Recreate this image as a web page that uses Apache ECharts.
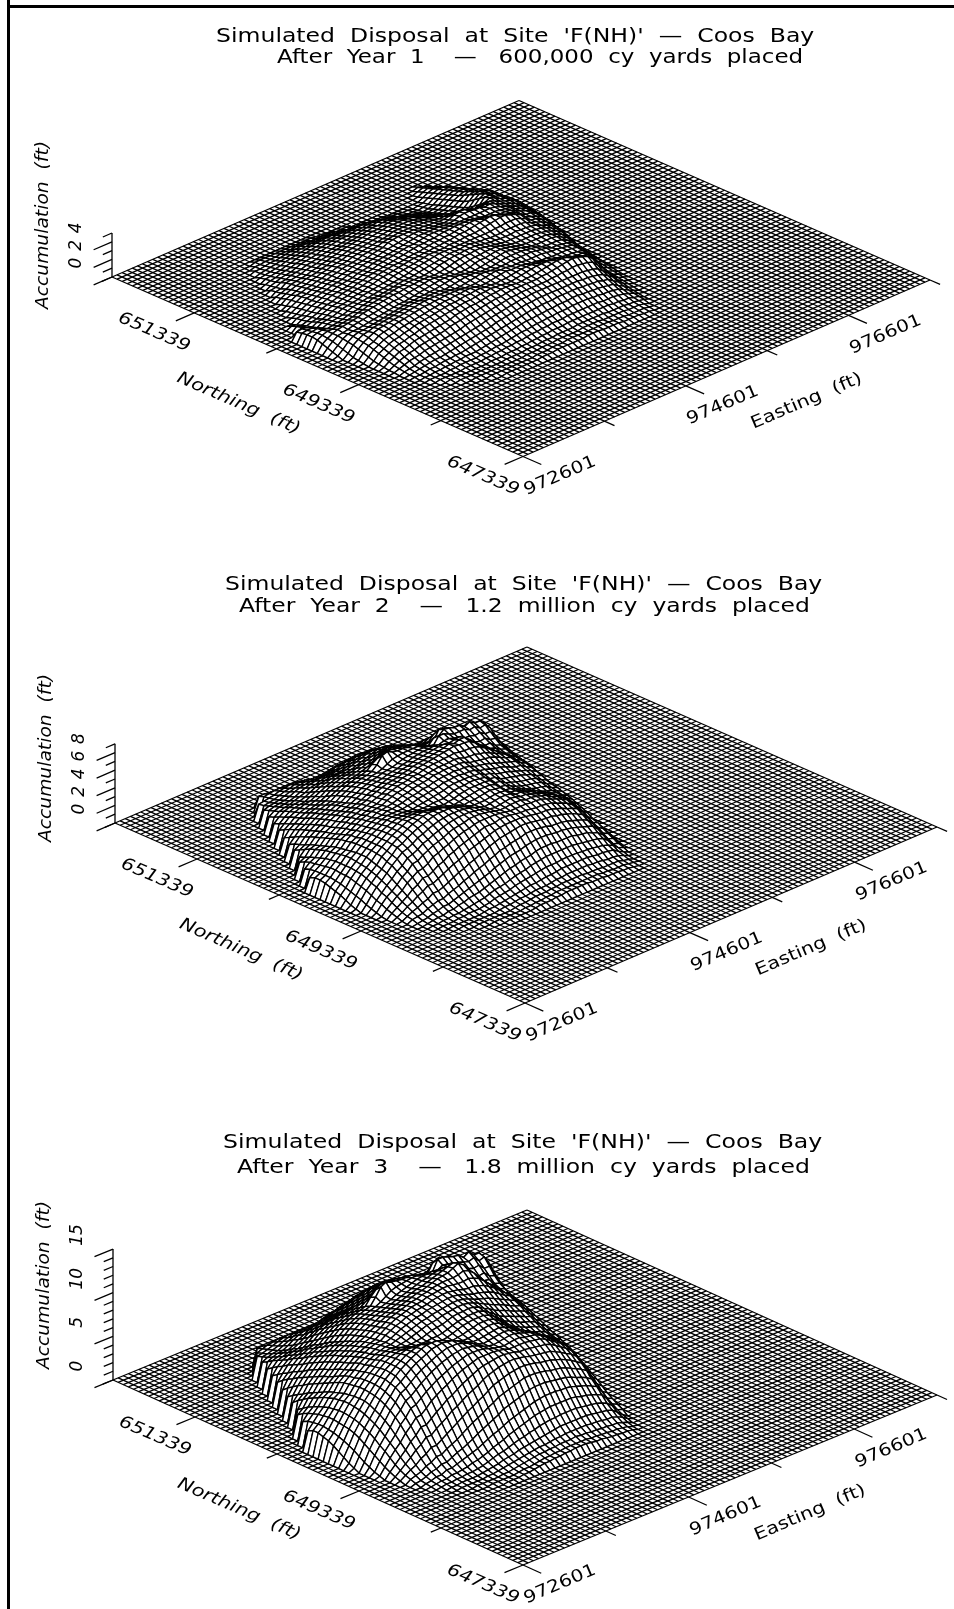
<!DOCTYPE html>
<html><head><meta charset="utf-8"><style>html,body{margin:0;padding:0;background:#fff}#c{width:954px;height:1609px}</style>
<script src="https://cdn.jsdelivr.net/npm/echarts@6/dist/echarts.min.js"></script></head><body><div id="c"></div>
<script>
const eastTicks=[972601,973601,974601,975601,976601,977601];
const northTicks=[647339,648339,649339,650339,651339,652339];
const labeledEast=[972601,974601,976601];
const labeledNorth=[647339,649339,651339];
const meshCells=80;
// accumulation: tenths of a foot; each row is one easting line: [first northing node, heights...]
const firstEastingNode=4;
const year1Rows=[
[40,2,4,6,8,10,11,11,10,9],
[36,1,2,3,5,7,9,11,12,13,13,12,11,10],
[31,1,1,2,3,4,6,8,10,12,13,14,15,15,15,14,13,11,9,7,5,3],
[28,1,1,2,3,4,6,8,10,12,14,15,16,17,17,16,17,15,13,11,9,7,6,4,2],
[26,1,1,1,2,3,5,7,9,11,13,15,16,18,19,19,18,17,18,16,14,13,12,10,8,6,5,4,2],
[25,1,1,1,2,3,4,7,9,12,14,16,18,20,21,20,19,18,19,19,17,15,14,13,11,9,8,7,5,4,3,2],
[24,1,1,1,2,3,4,6,8,11,13,16,18,20,22,23,22,20,19,20,20,18,16,15,14,13,12,10,9,8,7,6,5,3,2],
[23,1,1,1,1,2,3,5,7,9,12,15,17,19,21,23,24,23,21,20,21,21,19,18,16,16,15,14,13,12,11,10,9,8,7,6,4,3],
[23,1,1,1,2,3,4,6,8,11,14,17,19,21,23,25,25,24,22,21,22,23,21,19,18,18,17,16,15,14,13,12,12,11,10,8,7,5,4,3],
[22,1,1,1,1,2,3,5,6,9,12,15,18,20,22,24,26,26,25,23,22,23,24,22,20,20,19,18,17,16,16,15,14,13,12,11,10,9,7,5,4,3,2],
[22,1,1,1,2,3,4,5,7,10,13,16,19,22,24,25,27,27,26,24,23,24,25,24,22,21,20,19,19,18,18,17,16,15,14,13,12,11,10,9,7,5,4,3,2],
[21,1,1,1,1,2,3,4,6,8,11,14,17,20,23,25,26,28,28,27,25,24,25,26,25,23,22,21,21,20,20,19,18,17,16,15,14,13,12,11,10,8,7,5,4,3,2,2],
[21,1,1,1,1,2,3,5,6,9,12,15,18,21,24,26,27,29,29,28,26,25,26,27,26,25,23,23,22,22,21,20,20,19,18,17,16,15,14,12,11,10,8,7,5,4,3,2,2],
[20,1,1,1,1,1,2,3,5,7,10,13,16,19,22,25,27,28,30,30,29,27,26,27,28,27,25,24,24,23,23,22,21,21,20,19,18,17,16,15,13,12,11,9,8,6,5,4,3,2,2],
[20,1,1,1,1,2,3,4,5,8,11,14,17,21,23,26,28,29,31,31,30,28,26,27,29,28,26,25,25,25,24,24,23,22,21,20,20,19,18,16,15,14,12,11,9,8,6,5,4,3,2],
[20,1,1,1,1,2,3,4,6,9,12,15,18,22,24,27,29,30,31,32,30,28,27,28,29,29,27,26,26,26,26,25,24,23,23,22,21,20,19,18,16,15,14,13,11,9,8,6,4,3,2],
[20,1,1,1,2,2,4,5,7,10,13,16,20,23,26,28,30,31,32,32,30,29,28,29,30,30,28,27,27,28,27,27,26,25,24,23,23,22,21,19,18,16,15,14,12,11,9,7,5,3,2],
[20,1,1,1,2,3,4,6,8,11,14,17,21,24,27,29,31,32,32,32,31,29,29,30,31,30,29,28,28,29,29,28,27,26,25,25,24,23,22,21,19,18,16,15,14,12,10,8,6,4,2],
[20,1,1,1,2,3,5,6,9,12,15,18,22,25,28,30,31,32,33,32,31,30,30,31,31,31,30,29,30,30,30,29,28,27,27,26,25,24,23,22,21,19,18,16,15,13,11,9,7,4,2],
[20,1,1,2,2,3,5,7,10,13,16,20,23,26,29,31,32,33,33,32,31,30,31,32,32,31,30,30,31,31,31,30,30,29,28,27,26,26,25,23,22,21,19,18,16,14,12,10,7,4,2],
[20,2,2,2,3,4,6,8,11,14,18,21,24,27,29,31,33,33,33,32,30,31,32,33,32,31,31,31,32,32,32,31,31,30,29,28,28,27,26,25,24,22,20,19,17,15,13,10,8,5,2],
[20,2,2,2,3,4,6,9,12,15,19,22,25,28,30,32,33,34,33,31,31,32,33,33,32,31,32,33,33,33,32,32,32,31,30,30,29,28,27,26,25,23,21,20,18,16,14,11,8,5,2],
[20,2,2,3,3,5,7,10,13,16,20,23,26,29,31,33,34,34,32,31,32,33,33,32,31,32,33,34,34,34,33,33,33,32,32,31,30,29,28,27,26,24,22,21,19,17,14,11,8,5,2],
[20,3,3,3,4,5,8,10,14,17,21,24,27,30,32,33,34,33,32,32,33,34,33,32,32,33,34,35,35,35,34,34,34,33,33,32,31,30,29,28,27,25,23,22,20,17,15,11,8,4,2],
[20,3,3,3,4,6,8,11,15,18,22,25,28,30,32,34,33,32,32,33,34,34,32,32,33,35,35,36,36,35,35,35,35,34,34,35,33,31,30,29,28,26,24,22,20,18,15,11,7,4,2],
[20,3,3,4,4,6,9,12,15,19,23,26,29,31,33,33,33,32,33,34,34,33,32,33,34,36,36,37,37,36,35,36,36,35,35,36,34,32,31,30,29,27,25,23,21,18,15,11,7,4,1],
[20,3,4,4,5,7,9,12,16,20,24,27,29,32,33,33,32,33,34,35,34,32,32,34,36,37,37,38,37,36,36,37,36,36,36,37,35,33,32,31,30,28,26,24,21,18,15,10,6,3,1],
[20,3,4,4,5,7,10,13,16,20,24,27,30,32,33,32,33,34,35,35,33,32,33,35,37,38,38,38,37,37,37,37,37,37,37,37,36,35,33,32,30,29,27,24,22,18,14,9,5,3],
[20,3,4,4,5,7,10,13,17,21,25,28,30,32,32,32,33,35,36,34,33,33,35,36,38,38,38,38,37,37,38,38,38,38,38,37,36,35,34,33,31,29,27,25,22,18,14,8,5,2],
[20,4,4,4,5,8,10,14,17,21,25,28,30,32,32,33,34,36,35,34,33,34,36,37,38,39,38,38,38,38,38,38,39,38,38,37,36,35,34,33,32,30,28,25,22,18,13,8,4,2],
[20,4,4,5,6,8,11,14,18,21,25,28,30,32,33,34,35,35,35,34,34,35,36,37,39,39,39,38,38,38,39,39,39,38,37,36,36,35,34,33,32,30,28,25,21,17,12,7,4,2],
[20,4,4,5,6,8,11,14,18,22,25,28,30,32,33,35,36,35,34,34,35,36,37,38,39,39,39,38,38,39,39,40,39,38,37,36,35,35,34,33,31,29,27,24,20,16,11,6,3],
[20,3,4,5,6,8,11,15,18,22,25,28,30,33,34,36,36,35,34,35,36,37,38,38,38,38,38,38,39,40,40,40,39,38,36,35,35,34,33,32,30,28,25,22,18,14,10,5,2],
[20,3,4,5,6,8,11,15,19,22,25,28,31,33,35,37,36,34,34,35,36,38,38,38,37,37,37,38,39,40,41,41,39,37,36,35,34,33,32,31,29,26,23,20,17,13,9,5,2],
[20,3,4,4,6,8,11,15,19,22,25,28,31,34,36,37,35,33,33,35,36,37,37,37,36,36,37,38,39,41,42,41,39,37,35,34,33,32,31,29,27,24,21,18,15,11,7,4,1],
[20,3,3,4,6,8,11,15,18,22,25,28,32,35,37,37,34,32,33,35,36,36,36,35,35,36,36,38,40,42,43,41,39,38,36,34,32,31,29,27,24,21,18,15,12,9,6,3,1],
[20,2,3,4,5,8,11,14,18,21,25,28,32,36,38,36,33,31,33,35,35,35,34,34,34,35,36,38,41,43,43,41,39,40,39,35,32,30,27,25,22,18,15,12,10,7,5,3,1],
[20,2,3,4,5,8,10,14,17,21,24,28,33,37,38,35,32,31,33,34,34,33,33,33,34,35,36,39,42,44,42,40,39,41,40,36,32,29,26,23,20,16,13,10,8,6,4,2],
[20,2,2,4,5,7,10,13,17,20,24,28,33,38,37,33,31,30,32,33,33,32,32,33,34,35,37,39,43,45,41,39,39,41,40,36,31,27,24,21,18,14,11,9,7,5,3,2],
[20,2,2,3,5,7,10,13,16,20,23,27,32,37,35,31,30,30,31,32,31,31,32,33,34,36,37,40,44,44,40,38,39,40,38,34,29,25,22,18,15,12,10,8,6,4,2,1],
[20,1,2,3,4,6,9,12,15,18,22,26,31,35,33,30,29,30,31,30,30,31,32,33,34,35,37,40,44,42,39,38,39,40,36,32,27,23,19,16,13,11,9,7,5,3,2,1],
[20,1,2,3,4,6,8,11,14,17,20,24,29,33,31,29,29,30,30,30,30,31,32,33,34,35,37,40,42,40,38,38,39,38,34,29,24,20,17,14,12,10,8,6,4,2,1],
[21,1,2,3,4,6,8,10,13,16,19,23,28,30,29,28,29,29,29,30,31,32,32,33,34,36,38,40,39,38,37,38,39,36,31,26,22,18,15,13,11,9,7,5,3,2,1],
[23,2,3,4,5,7,9,12,14,17,21,25,27,27,28,28,28,29,30,30,31,32,33,33,35,37,37,37,36,36,37,37,33,28,24,20,17,15,13,11,9,7,5,3,2],
[25,1,2,3,5,6,8,10,12,15,18,22,24,25,26,26,27,28,29,30,30,31,31,32,33,34,35,34,34,35,36,34,30,26,22,19,17,15,13,11,9,7,5,3,1],
[27,1,2,3,4,5,6,8,10,12,15,18,21,23,24,25,26,27,28,29,30,30,30,31,31,32,32,32,33,34,33,30,27,24,21,18,16,14,12,10,8,6,4,2],
[29,1,2,3,4,5,6,7,9,11,13,16,19,21,23,24,25,26,27,28,29,29,29,29,30,30,30,30,31,30,28,25,23,20,18,16,14,12,10,8,6,4,2],
[32,1,2,3,4,5,6,7,9,11,14,17,19,21,22,24,25,26,26,27,27,27,28,28,28,28,29,27,25,22,20,18,16,14,12,10,7,5,3],
[37,1,2,3,4,6,8,11,14,16,18,20,21,22,23,24,24,25,25,25,25,25,24,22,20,18,16,14,12,10,8,5,3],
[42,1,3,5,8,11,13,15,17,18,19,20,21,21,21,20,19,17,15,14,12,10,8,6,4,2],
[46,2,4,7,9,11,13,14,15,15,15,14,13,11,9,7,5,3],
[49,1,3,5,7,9,10,11,11,10,8,5,3,1]];
const year2Rows=[
[37,2,4,7,10,12,14,16,17,17,15],
[33,1,3,5,7,10,12,14,16,18,19,20,20,20,20,19,17],
[30,1,3,5,7,10,12,15,18,20,22,24,25,25,26,26,25,24,23,22,20,17],
[28,1,3,4,6,9,12,16,18,22,24,27,29,30,31,31,31,31,30,29,27,25,23,20,18],
[26,1,1,2,4,7,10,13,17,20,24,27,30,32,34,35,36,37,37,36,35,34,33,31,29,27,24,21,18],
[25,1,1,2,3,5,9,13,17,21,25,29,33,35,37,39,41,41,41,40,39,38,37,35,33,31,29,27,24,22,20,17],
[24,1,1,2,3,5,8,12,17,22,27,31,35,39,41,44,45,46,46,46,46,45,44,43,41,39,37,35,33,31,28,26,23,20,17],
[23,1,1,1,2,3,6,10,14,20,25,31,35,39,44,46,48,50,50,50,50,50,48,48,46,44,42,40,39,37,35,33,31,29,26,24,21,18],
[23,1,1,2,3,5,8,12,18,24,30,35,41,45,49,52,53,54,54,54,54,53,52,51,49,48,46,44,42,41,39,37,35,32,30,28,25,23,20,18],
[22,1,1,1,2,3,5,8,12,18,24,30,36,42,47,51,54,57,58,58,58,57,56,55,54,53,51,50,48,46,45,43,41,39,37,34,32,30,28,25,23,20,18],
[22,1,1,1,3,4,7,10,15,20,27,33,39,46,50,54,58,60,61,61,61,60,59,58,57,56,54,53,51,50,48,46,44,42,40,38,35,33,31,29,27,24,22,20,18],
[21,1,1,1,1,3,5,8,12,17,23,30,37,44,49,54,58,61,63,64,64,63,63,61,60,58,58,56,55,54,52,50,48,46,44,42,40,37,35,33,31,29,26,24,22,20,18,17],
[21,1,1,1,2,3,6,10,14,19,26,33,39,46,52,56,60,64,66,67,66,65,64,63,61,61,60,58,57,56,54,52,51,49,47,44,42,39,37,35,32,30,27,25,23,21,19,18],
[20,1,1,1,1,3,4,7,11,16,22,29,36,43,49,54,59,63,66,68,68,67,65,64,63,63,62,61,60,59,58,56,54,52,50,48,46,44,41,39,36,33,31,29,26,24,22,20,19,18,16],
[20,1,1,1,2,3,5,8,12,18,24,31,38,45,51,56,61,65,68,70,69,67,65,64,63,63,63,62,61,61,60,58,57,56,54,52,50,47,44,41,39,36,33,31,28,26,24,22,20,19,16],
[20,1,1,1,3,4,7,10,14,20,27,34,41,48,54,59,63,67,70,71,70,67,65,63,63,64,64,65,64,63,63,61,60,58,57,55,53,50,48,45,42,39,36,33,31,29,26,24,22,20,15],
[20,1,1,2,3,5,8,12,16,22,29,36,44,50,56,61,65,68,71,71,69,66,64,63,64,65,66,67,67,65,65,63,63,61,60,58,56,53,50,48,45,42,39,36,33,31,28,25,23,20,14],
[20,1,2,3,4,6,9,13,18,24,31,39,46,52,58,62,66,69,71,71,68,65,64,64,65,67,68,69,69,68,67,65,65,63,62,60,58,55,52,50,47,44,41,37,35,32,29,27,24,20,12],
[20,2,2,3,5,7,10,14,20,27,34,41,48,54,59,63,67,69,71,70,67,65,64,65,67,68,69,70,71,70,69,67,66,65,63,62,60,57,54,52,49,46,42,39,36,33,30,27,24,19,11],
[20,3,3,4,5,8,12,16,22,29,36,44,50,56,61,65,67,69,70,68,65,64,65,66,68,69,71,72,72,71,70,69,67,66,65,63,61,58,56,53,50,47,44,40,37,33,30,27,23,18,10],
[20,3,3,5,6,9,13,18,24,31,39,46,52,58,62,65,67,68,68,66,64,63,65,67,69,71,72,73,73,73,71,70,69,68,66,65,63,60,57,54,51,48,44,41,37,33,30,25,20,14,7],
[20,3,4,5,7,10,14,19,25,33,40,48,54,58,62,65,66,67,66,65,63,64,65,68,70,71,73,74,75,74,73,71,70,69,68,70,68,62,59,56,52,49,45,42,38,34,30,25,20,13,6],
[20,4,4,5,7,10,15,20,27,34,42,49,55,58,62,64,65,65,64,63,64,65,67,69,71,73,74,75,75,75,74,73,71,70,71,78,72,65,61,58,54,51,47,43,39,35,31,24,18,12,5],
[20,4,5,6,7,11,16,22,28,35,43,50,56,60,62,63,63,63,63,64,65,67,69,71,73,74,76,76,77,77,76,74,73,72,74,80,75,68,63,60,56,53,49,45,41,37,32,24,17,10,4],
[20,5,5,6,8,12,17,23,29,37,44,51,56,60,61,61,61,61,63,64,66,68,70,72,73,75,76,77,78,78,77,76,74,74,75,77,76,71,66,62,58,55,51,47,43,38,33,25,16,9],
[20,5,5,7,9,12,18,24,31,38,46,52,56,59,60,60,60,62,63,65,67,69,70,72,74,75,77,78,79,79,78,77,76,75,76,76,75,72,68,64,60,57,53,49,44,39,33,24,15,8],
[20,5,5,7,9,13,18,25,32,39,46,52,56,58,59,60,61,63,64,66,68,69,71,72,74,76,77,78,79,80,79,78,77,76,76,76,74,72,69,65,62,58,54,50,46,40,32,23,14,6],
[20,5,5,7,10,14,18,25,32,39,46,51,55,57,59,61,62,64,65,67,68,69,71,72,73,75,77,78,80,81,80,79,78,77,76,75,73,71,68,65,62,58,54,50,45,39,31,22,12,5],
[20,5,5,7,10,14,19,25,32,39,45,50,54,57,59,61,63,64,65,66,68,69,70,71,73,75,77,79,80,82,81,80,78,77,76,75,72,70,67,65,61,57,53,49,44,37,29,19,10,4],
[20,4,5,7,10,14,19,25,31,38,44,49,53,56,59,61,62,63,64,65,66,68,69,71,72,74,76,78,81,83,82,81,79,76,74,72,70,67,64,60,57,54,49,45,39,32,25,16,8,3],
[20,4,5,6,10,14,19,25,31,37,42,48,52,55,58,59,60,60,60,60,61,63,65,67,69,71,73,76,80,84,84,81,78,75,72,70,67,65,62,58,53,48,43,36,30,24,16,8,3],
[20,4,5,6,10,14,19,25,31,37,42,48,52,55,58,59,60,60,59,59,60,62,64,66,68,70,72,75,79,83,82,80,80,83,78,70,66,62,57,52,47,41,34,28,21,15,10,5],
[20,3,4,6,9,14,18,24,31,36,41,46,51,54,57,58,58,58,57,56,57,58,60,63,66,69,71,75,79,83,84,81,80,83,78,70,66,62,57,52,47,41,34,28,21,15,10,5],
[20,3,4,5,9,13,18,23,29,35,40,45,49,53,55,56,56,56,54,54,54,56,58,61,64,67,70,73,78,82,84,82,78,80,83,80,72,65,60,54,49,43,37,30,24,18,12,7,3],
[20,3,3,5,8,12,17,22,28,33,38,43,47,50,52,54,54,52,52,51,52,54,57,60,63,65,69,72,76,78,79,76,75,78,82,79,71,63,56,50,44,38,32,26,20,14,10,5,2],
[20,2,3,5,7,12,16,21,27,31,36,41,44,48,50,50,50,50,49,49,50,52,55,58,61,63,67,69,72,73,73,72,73,78,80,76,68,60,52,45,39,33,27,20,15,10,6,3],
[20,2,3,5,7,11,15,20,24,29,34,38,42,45,47,48,48,47,46,47,49,51,54,56,58,61,64,66,68,68,68,69,73,78,80,74,65,56,46,39,33,26,20,14,10,5,2],
[20,1,2,3,6,10,13,18,22,27,31,35,39,41,44,44,44,44,44,46,48,50,52,54,56,59,61,63,64,64,65,67,71,75,76,70,60,49,41,33,26,19,14,9,5,2],
[21,1,2,4,6,10,13,17,21,25,29,33,36,38,40,41,42,42,44,46,48,50,52,55,57,59,60,60,62,65,68,72,76,79,72,61,50,40,32,24,17,12,7,3],
[23,1,3,5,7,10,14,18,21,25,29,31,34,36,37,39,40,42,44,46,49,51,53,54,56,56,58,60,64,68,72,75,71,61,50,39,30,22,15,10,5,2],
[25,3,5,8,11,14,18,20,24,27,29,32,34,36,38,39,41,44,46,48,50,51,52,54,56,58,63,68,73,75,68,58,48,37,27,19,12,7,3],
[27,2,4,7,9,12,14,17,20,22,25,27,30,32,34,36,38,40,42,44,46,48,50,52,56,61,67,69,65,56,45,34,24,16,10,5,2],
[30,2,3,5,7,10,12,14,16,19,22,24,27,29,31,33,35,37,39,41,43,46,49,53,57,61,60,52,41,31,21,14,7,3],
[33,2,3,5,7,10,12,15,18,20,23,26,29,31,33,35,37,38,40,43,46,49,52,48,39,30,20,13,7,3],
[37,2,4,6,9,12,14,18,20,23,26,29,31,32,34,36,39,41,38,30,21,13,7,3],
[41,2,5,7,10,14,17,20,22,24,26,28,30,31,29,22,14,7,3],
[45,3,5,9,12,14,17,19,20,22,23,22,17,11,5,2],
[49,3,6,9,12,14,15,15,12,7,3],
[53,2,5,7,7,5,3]];
const year3Rows=[
[37,3,6,10,14,18,21,23,25,25,22],
[33,2,4,7,10,14,18,21,24,26,28,29,30,30,29,28,25],
[30,2,4,7,10,14,18,22,26,30,33,35,36,37,38,38,37,36,34,32,29,25],
[28,2,4,6,9,13,18,23,27,32,36,39,42,44,45,46,46,45,44,42,40,37,34,30,26],
[26,1,2,3,6,10,14,19,25,30,35,40,44,47,50,52,53,54,54,53,52,50,48,45,42,39,35,31,26],
[25,1,2,3,5,8,13,19,25,31,37,43,48,52,55,58,60,60,60,59,58,56,54,52,49,46,43,40,36,33,29,25],
[24,1,2,3,5,8,12,18,25,32,39,46,52,57,61,64,66,67,68,68,67,66,65,63,60,57,54,51,48,45,41,38,34,30,25],
[23,1,1,2,3,5,9,14,21,29,37,45,52,58,64,68,71,73,74,74,74,73,71,70,68,65,62,59,57,54,51,48,45,42,38,35,31,26],
[23,1,2,3,5,8,12,18,26,35,44,52,60,66,72,76,78,80,80,80,79,78,76,75,72,70,68,65,62,60,57,54,51,47,44,41,37,34,30,26],
[22,1,1,2,3,5,8,12,18,26,35,44,53,62,69,75,80,84,85,86,85,84,83,81,80,78,75,73,71,68,66,63,60,57,54,50,47,44,41,37,34,30,26],
[22,1,1,2,4,6,10,15,22,30,40,49,58,67,74,80,85,89,90,90,90,89,87,85,84,82,80,78,75,73,71,68,65,62,59,56,52,49,46,42,39,36,33,29,26],
[21,1,1,1,2,4,7,12,18,25,34,44,54,64,72,79,85,90,93,94,94,93,92,90,88,86,85,83,81,79,76,74,71,68,65,62,59,55,52,48,45,42,38,35,32,29,27,25],
[21,1,1,2,3,5,9,14,20,28,38,48,58,68,76,83,89,94,97,98,97,95,94,92,90,89,88,86,84,82,80,77,75,72,69,65,62,58,55,51,47,44,40,37,34,31,28,26,24],
[20,1,1,1,2,4,6,10,16,23,32,42,53,63,72,80,87,92,97,100,100,99,96,94,93,92,91,90,88,87,85,82,80,77,74,71,68,64,60,57,53,49,45,42,38,35,32,30,28,26,24],
[20,1,1,2,3,5,8,12,18,26,36,46,56,66,75,83,90,95,100,103,102,99,96,94,92,92,92,91,90,89,88,86,84,82,79,76,73,69,65,61,57,53,49,45,41,38,35,32,30,28,24],
[20,1,1,2,4,6,10,14,21,30,40,50,60,70,79,86,93,98,103,105,103,99,95,93,93,94,94,95,94,93,92,90,88,86,84,81,78,74,70,66,62,58,53,49,45,42,38,35,32,29,22],
[20,2,2,3,5,8,12,17,24,33,43,53,64,74,82,89,95,100,104,105,102,97,94,93,94,96,97,98,98,96,95,93,92,90,88,85,82,78,74,70,66,62,57,53,48,45,41,37,34,30,20],
[20,2,3,4,6,9,13,19,27,36,46,57,67,77,85,91,97,102,105,105,100,96,94,94,96,98,100,101,101,100,98,96,95,93,91,88,85,81,77,73,69,65,60,55,51,47,43,39,35,30,18],
[20,3,3,5,7,10,15,21,29,39,50,60,70,80,87,93,98,102,104,103,98,95,94,95,98,100,102,103,104,103,101,99,97,95,93,91,88,84,80,76,72,67,62,58,53,48,44,40,35,28,16],
[20,4,4,6,8,12,17,24,32,42,53,64,74,83,89,95,99,102,103,100,96,94,95,97,100,102,104,106,106,105,103,101,99,97,95,93,90,86,82,78,74,69,64,59,54,49,44,40,34,26,14],
[20,5,5,7,9,13,19,26,35,46,57,68,77,85,91,95,98,100,100,97,94,93,95,99,102,104,106,107,108,107,105,103,101,99,97,95,92,88,84,80,75,70,65,60,55,50,44,40,30,20,10],
[20,5,6,8,10,14,20,28,37,48,59,70,79,86,91,95,97,98,97,95,93,94,96,100,103,105,107,109,110,109,107,105,103,101,100,103,100,92,87,82,77,72,67,62,57,52,46,40,30,18,8],
[20,6,6,8,11,15,22,30,39,50,61,72,81,87,91,94,95,95,94,93,94,96,98,101,104,107,109,110,111,111,109,107,105,103,104,112,106,96,90,85,80,75,70,65,60,54,48,40,30,18,8],
[20,6,7,9,11,16,23,32,41,52,63,74,82,88,91,92,92,92,92,93,95,98,100,103,106,108,110,111,112,112,111,109,107,106,108,115,110,100,93,88,83,78,73,68,62,56,50,40,28,16,6],
[20,7,7,9,12,17,25,34,43,54,65,75,83,88,90,90,90,90,92,94,97,100,102,105,107,109,111,113,114,114,113,111,109,108,110,113,112,105,97,91,86,81,76,70,64,58,50,40,26,14],
[20,7,8,10,13,18,26,35,45,56,67,76,83,87,89,89,89,91,93,96,98,101,103,106,108,110,112,114,115,115,114,113,111,110,111,112,110,106,100,94,89,84,78,72,66,59,50,38,24,12],
[20,8,8,10,13,19,27,36,46,57,67,76,82,86,87,88,90,92,94,97,100,102,104,106,109,111,113,115,116,117,116,114,113,112,112,111,109,105,101,96,91,86,80,74,68,60,50,36,22,10],
[20,8,8,10,14,20,27,37,47,57,67,75,81,84,87,89,91,93,95,98,100,102,104,107,109,111,113,115,117,118,118,116,115,114,113,111,108,104,100,96,92,87,81,75,68,60,48,34,20,8],
[20,8,8,11,14,20,28,37,47,57,66,74,79,84,87,90,92,94,96,98,100,102,104,106,108,110,112,114,117,119,120,118,116,115,113,111,107,103,99,95,91,86,80,74,66,58,46,32,18,7],
[20,7,8,10,14,20,28,37,47,56,65,72,78,83,87,90,92,93,94,96,98,100,102,104,106,108,110,113,116,119,121,120,118,115,112,109,105,101,97,93,89,84,78,71,63,54,42,28,15,6],
[20,6,7,10,14,20,28,37,46,55,63,71,77,82,86,88,90,91,91,92,94,96,98,100,103,105,108,111,115,119,122,122,119,116,111,107,103,99,95,91,86,80,74,66,57,47,36,24,12,4],
[20,6,7,9,14,20,28,37,46,54,62,70,76,81,85,87,88,88,87,87,89,91,94,97,100,103,106,110,115,120,125,124,120,115,110,105,100,96,92,87,81,75,67,58,49,39,28,18,9,3],
[20,5,6,9,13,20,27,36,45,53,61,68,75,80,84,86,86,85,84,83,84,86,89,93,97,101,105,110,116,122,128,126,119,118,122,115,103,97,91,84,77,69,60,50,41,31,22,14,7,3],
[20,4,6,8,13,19,26,34,43,51,59,66,72,78,81,83,83,82,80,79,80,83,86,90,94,99,103,108,114,120,124,121,115,117,122,118,106,96,88,80,72,63,54,44,35,26,18,11,5],
[20,4,5,8,12,18,25,33,41,48,56,63,69,74,77,79,79,77,76,75,77,80,84,88,92,96,101,106,111,115,116,112,110,115,120,116,105,93,83,74,65,56,47,38,29,21,14,8,3],
[20,3,5,7,11,17,24,31,39,46,53,60,65,70,73,74,74,73,72,72,74,77,81,85,89,93,98,102,106,108,108,106,108,114,118,112,100,88,76,66,57,48,39,30,22,15,9,4],
[20,3,4,7,11,16,22,29,36,43,50,56,62,66,69,70,70,69,68,69,72,75,79,82,86,90,94,98,100,101,100,102,107,112,117,108,95,80,69,58,48,38,29,21,14,8,3],
[20,2,3,5,9,14,19,26,33,39,46,52,57,61,64,65,65,65,65,67,70,73,76,80,83,87,90,93,95,95,96,99,105,110,112,102,88,72,60,48,38,28,20,13,7,3],
[21,1,3,6,9,14,19,25,31,37,43,48,53,56,59,60,61,62,64,67,70,74,77,81,84,87,88,89,91,95,100,106,112,116,106,90,74,59,46,35,25,17,10,5],
[23,2,4,7,11,15,20,26,31,37,42,46,50,53,55,57,59,62,65,68,72,75,78,80,82,83,85,88,94,100,106,110,104,90,73,58,44,32,22,14,8,3],
[25,5,8,12,16,21,26,30,35,39,43,47,50,53,56,58,61,64,67,70,73,75,77,79,82,86,92,100,108,110,100,86,70,54,40,28,18,11,5],
[27,3,6,10,13,17,21,25,29,33,37,40,44,47,50,53,56,59,62,65,67,70,73,77,83,90,98,102,96,82,66,50,36,24,14,7,3],
[30,3,5,8,11,14,17,21,24,28,32,36,39,43,46,49,52,55,58,60,63,67,72,78,84,90,88,76,60,45,31,20,11,5],
[33,3,5,8,11,14,18,22,26,30,34,38,42,45,48,51,54,56,59,63,67,72,76,70,58,44,30,19,10,4],
[37,3,6,9,13,17,21,26,30,34,38,42,45,47,50,53,57,60,56,44,31,19,10,4],
[41,3,7,11,15,20,25,29,33,36,38,41,44,46,42,32,21,11,5],
[45,4,8,13,17,21,25,28,30,32,34,32,25,16,8,3],
[49,4,9,13,17,20,22,22,18,11,5],
[53,3,7,10,11,8,4]];
const titleLine1="Simulated  Disposal  at  Site  'F(NH)'  —  Coos  Bay";
const panels=[
 {near:[523,456.5],east:[407,-176.5],north:[-411,-179.5],ftPx:8.8,zMax:5,zMajor:2,labelDrop:-52,titles:[[titleLine1,216,37,1.178],["After  Year  1    —   600,000  cy  yards  placed",277,58,1.148]],rows:year1Rows},
 {near:[525,1003],east:[412,-176],north:[-410,-180],ftPx:8.8,zMax:9,zMajor:2,labelDrop:-65,titles:[[titleLine1,225,585,1.176],["After  Year  2    —   1.2  million  cy  yards  placed",239,607,1.173]],rows:year2Rows},
 {near:[523,1565],east:[414,-170],north:[-410,-185],ftPx:8.73,zMax:15,zMajor:5,labelDrop:-95,titles:[[titleLine1,223,1143,1.18],["After  Year  3    —   1.8  million  cy  yards  placed",237,1168,1.177]],rows:year3Rows}
];
const FONT='"DejaVu Sans"';
function proj(p,u,v,z){return [p.near[0]+u*p.east[0]+v*p.north[0],p.near[1]+u*p.east[1]+v*p.north[1]-z*p.ftPx];}
function hAt(p,i,j){const r=p.rows[i-firstEastingNode];if(!r)return 0;const k=j-r[0]+1;return(k<1||k>=r.length)?0:r[k]/10;}
function unit(v){const l=Math.hypot(v[0],v[1]);return [v[0]/l,v[1]/l];}
function lineEl(api,a,b,w){const A=api.coord(a),B=api.coord(b);return{type:'line',shape:{x1:A[0],y1:A[1],x2:B[0],y2:B[1]},style:{stroke:'#000',lineWidth:w}};}
function textEl(api,t,pos,rot,size,scale,italic){const P=api.coord(pos);return{type:'text',x:P[0],y:P[1],rotation:rot,scaleX:scale,style:{text:t,font:(italic?'italic ':'')+size+'px '+FONT,fill:'#000',align:'center',verticalAlign:'middle'}};}
function planeSeries(p){const d=[];for(let k=0;k<=meshCells;k++){d.push([0,k]);d.push([1,k]);}
 return{type:'custom',coordinateSystem:'cartesian2d',z:2,silent:true,clip:false,animation:false,data:d,renderItem(par,api){const t=api.value(0),k=api.value(1)/meshCells;
 return t===0?lineEl(api,proj(p,k,0,0),proj(p,k,1,0),1.35):lineEl(api,proj(p,0,k,0),proj(p,1,k,0),1.35);}};}
function surfaceSeries(p){const d=[];const I=p.rows.length;for(let i=firstEastingNode-1;i<firstEastingNode+I;i++)for(let j=0;j<meshCells;j++){const a=hAt(p,i,j),b=hAt(p,i+1,j),c=hAt(p,i+1,j+1),e=hAt(p,i,j+1);if(a||b||c||e)d.push([i,j,a,b,c,e]);}
 d.sort((x,y)=>(y[0]+y[1])-(x[0]+x[1]));
 return{type:'custom',coordinateSystem:'cartesian2d',z:3,silent:true,clip:false,animation:false,data:d,renderItem(par,api){const i=api.value(0),j=api.value(1),n=meshCells;
 const pts=[proj(p,i/n,j/n,api.value(2)),proj(p,(i+1)/n,j/n,api.value(3)),proj(p,(i+1)/n,(j+1)/n,api.value(4)),proj(p,i/n,(j+1)/n,api.value(5))].map(q=>api.coord(q));
 return{type:'polygon',shape:{points:pts},style:{fill:'#fff',stroke:'#000',lineWidth:1.35}};}};}
function axisSeries(p){const E=unit(p.east),N=unit(p.north);const d=[];
 eastTicks.forEach(t=>d.push([0,t]));northTicks.forEach(t=>d.push([1,t]));
 for(let z=0;z<=p.zMax;z++)d.push([2,z]);d.push([3,0]);d.push([4,0]);d.push([5,0]);d.push([6,0]);
 return{type:'custom',coordinateSystem:'cartesian2d',z:4,silent:true,clip:false,animation:false,data:d,
  renderItem(par,api){const k=api.value(0),v=api.value(1);
  if(k===0){const u=(v-eastTicks[0])/5000,b=proj(p,u,0,0),M=labeledEast.includes(v),L=M?20:11;const e=[b[0]-N[0]*L,b[1]-N[1]*L];const ch=[lineEl(api,b,e,1.3)];
   if(M)ch.push(textEl(api,String(v),[b[0]+37,b[1]+19.5],0.405,17,1.18,false));return{type:'group',children:ch};}
  if(k===1){const u=(v-northTicks[0])/5000,b=proj(p,0,u,0),M=labeledNorth.includes(v),L=M?20:11;const e=[b[0]-E[0]*L,b[1]-E[1]*L];const ch=[lineEl(api,b,e,1.3)];
   if(M)ch.push(textEl(api,String(v),[b[0]-40,b[1]+19.5],-0.41,17,1.18,true));return{type:'group',children:ch};}
  if(k===2){const b=proj(p,0,1,v),M=v%p.zMajor===0,L=M?20:10;return lineEl(api,b,[b[0]-E[0]*L,b[1]-E[1]*L],1.3);}
  if(k===3){const b=proj(p,0,1,0),t=proj(p,0,1,p.zMax);const ch=[lineEl(api,b,t,1.3)];for(let z=0;z<=p.zMax;z+=p.zMajor){const q=proj(p,0,1,z);ch.push(textEl(api,String(z),[q[0]-35,q[1]-14],Math.PI/2,17,1,true));}return{type:'group',children:ch};}
  if(k===4){const c=proj(p,.5,0,0);return textEl(api,'Easting  (ft)',[c[0]+80,c[1]+33],0.405,17,1.2,false);}
  if(k===5){const c=proj(p,0,.5,0);return textEl(api,'Northing  (ft)',[c[0]-79,c[1]+37],-0.41,17,1.2,true);}
  const b=proj(p,0,1,0);return textEl(api,'Accumulation  (ft)',[b[0]-68,b[1]+p.labelDrop],Math.PI/2,17,1.1,true);
 }};}
const chart=echarts.init(document.getElementById('c'),null,{renderer:'canvas'});
const series=[];panels.forEach(p=>{series.push(planeSeries(p));series.push(surfaceSeries(p));series.push(axisSeries(p));});
const graphic=[{type:'rect',shape:{x:7,y:0,width:3,height:1609},style:{fill:'#000'}},{type:'rect',shape:{x:7,y:5,width:947,height:3},style:{fill:'#000'}}];
panels.forEach(p=>p.titles.forEach(t=>graphic.push({type:'text',x:t[1],y:t[2],scaleX:t[3],style:{text:t[0],font:'20px '+FONT,fill:'#000',align:'left',verticalAlign:'middle'}})));
chart.setOption({animation:false,backgroundColor:'#fff',grid:{left:0,top:0,right:0,bottom:0},
 xAxis:{type:'value',min:0,max:954,show:false},yAxis:{type:'value',min:0,max:1609,inverse:true,show:false},graphic,series});
</script></body></html>
